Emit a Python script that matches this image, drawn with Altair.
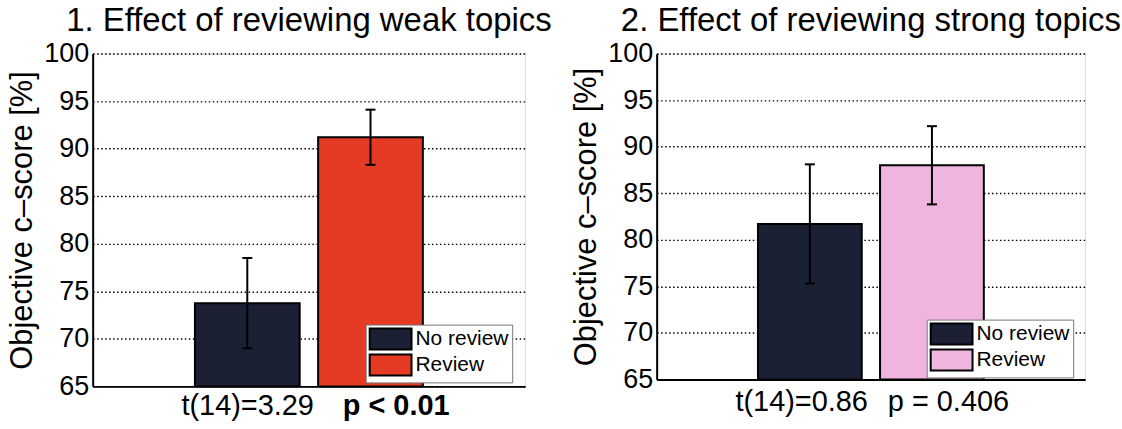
import altair as alt
import pandas as pd

FONT = "Liberation Sans"

groups = ["No review", "Review"]

# Panel 1: reviewing weak topics
weak_means = [73.75, 91.2]
weak_errs = [4.75, 2.9]
weak_colors = ["#1b2034", "#e53b25"]
weak_stats = ["t(14)=3.29", "p < 0.01"]

# Panel 2: reviewing strong topics
strong_means = [81.7, 88.0]
strong_errs = [6.4, 4.2]
strong_colors = ["#1b2034", "#f0b5de"]
strong_stats = ["t(14)=0.86", "p = 0.406"]

y_ticks = [65, 70, 75, 80, 85, 90, 95, 100]


def panel(title, means, errs, colors, stats, stat_bold, width, height,
          legend_xy, stat_x, stat_dy):
    df = pd.DataFrame({
        "group": groups,
        "score": means,
        "lo": [m - e for m, e in zip(means, errs)],
        "hi": [m + e for m, e in zip(means, errs)],
    })
    base = alt.Chart(df)

    x_enc = alt.X(
        "group:N", sort=groups,
        scale=alt.Scale(paddingInner=0.15, paddingOuter=0.83),
        axis=alt.Axis(labels=False, ticks=False, title=None, grid=False,
                      domain=True, domainColor="black", domainWidth=2),
    )
    y_scale = alt.Scale(domain=[65, 100], nice=False, zero=False)

    bars = base.mark_bar(stroke="black", strokeWidth=2).encode(
        x=x_enc,
        y=alt.Y(
            "score:Q", scale=y_scale,
            axis=alt.Axis(
                values=y_ticks, title="Objective c\u2013score [%]",
                titleFont=FONT, titleFontSize=31, titleFontWeight="normal",
                titleColor="black", titlePadding=5,
                labelFont=FONT, labelFontSize=27, labelColor="black",
                labelPadding=4, ticks=False,
                domain=True, domainColor="black", domainWidth=2,
                grid=True, gridColor="black", gridWidth=1.4,
                gridDash=[1.5, 2.5], gridOpacity=1,
            ),
        ),
        y2=alt.datum(65),
        color=alt.Color(
            "group:N",
            scale=alt.Scale(domain=groups, range=colors),
            legend=alt.Legend(
                title=None, orient="none",
                legendX=legend_xy[0], legendY=legend_xy[1],
                fillColor="white", strokeColor="#777777", padding=3,
                symbolType="M-1,-1H3V1H-1Z", symbolSize=441,
                symbolStrokeColor="black", symbolStrokeWidth=2,
                symbolOpacity=1,
                labelFont=FONT, labelFontSize=21, labelColor="black",
                labelOffset=24, rowPadding=-4,
            ),
        ),
    )

    whisker = base.mark_rule(color="black", strokeWidth=2).encode(
        x=alt.X("group:N", sort=groups),
        y=alt.Y("lo:Q", scale=y_scale),
        y2="hi:Q",
    )
    caps = base.transform_fold(["lo", "hi"], as_=["end", "v"]).mark_tick(
        color="black", thickness=2, size=10, opacity=1
    ).encode(
        x=alt.X("group:N", sort=groups),
        y=alt.Y("v:Q", scale=y_scale),
    )

    stat_df = pd.DataFrame({"t": [stats[0]], "p": [stats[1]]})
    stat_a = alt.Chart(stat_df).mark_text(
        font=FONT, fontSize=29, align="right", baseline="middle", color="black"
    ).encode(text="t:N", x=alt.value(stat_x[0]), y=alt.value(height + stat_dy))
    stat_b = alt.Chart(stat_df).mark_text(
        font=FONT, fontSize=29, align="left", baseline="middle", color="black",
        fontWeight="bold" if stat_bold else "normal",
    ).encode(text="p:N", x=alt.value(stat_x[1]), y=alt.value(height + stat_dy))

    return alt.layer(bars, whisker, caps, stat_a, stat_b).properties(
        width=width, height=height,
        title=alt.TitleParams(
            title, font=FONT, fontSize=33, fontWeight="normal", color="black",
            anchor="middle", frame="group", offset=2,
        ),
    )


left = panel("1. Effect of reviewing weak topics", weak_means, weak_errs,
             weak_colors, weak_stats, True, 434, 334, (274, 272), (222, 251), 20)
right = panel("2. Effect of reviewing strong topics", strong_means, strong_errs,
              strong_colors, strong_stats, False, 430, 327, (271, 267), (212, 232), 23)

chart = alt.hconcat(left, right, spacing=17).resolve_scale(
    color="independent"
).resolve_legend(color="independent").properties(
    padding={"left": 6, "top": 3, "right": 0, "bottom": 0}
).configure_view(stroke=None).configure(background="white")

chart.save("out.html", embed_options={"renderer": "svg", "actions": False})
